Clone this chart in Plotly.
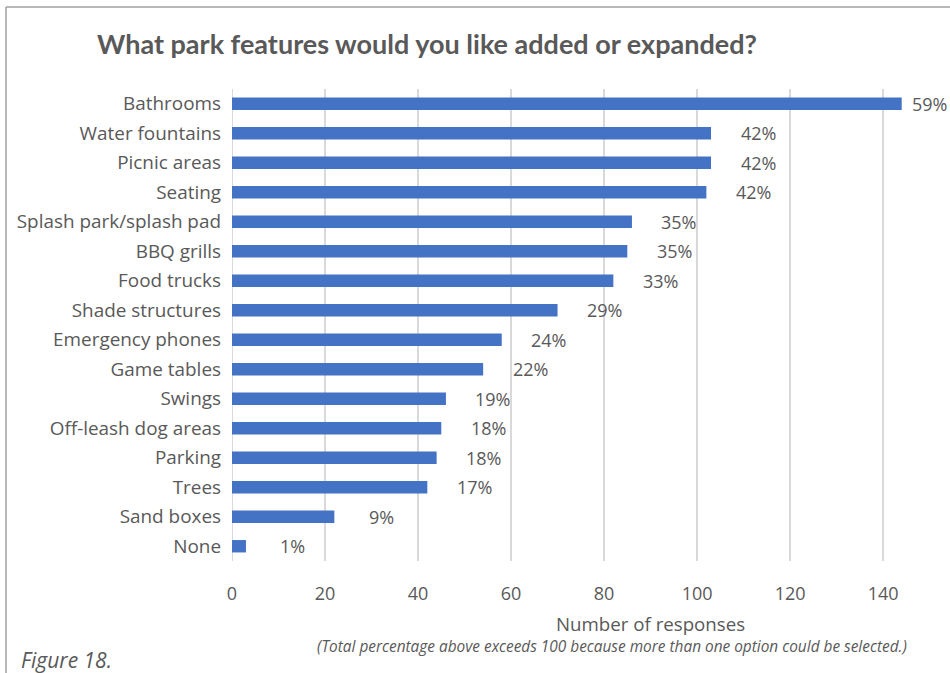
import plotly.graph_objects as go

categories = ["Bathrooms", "Water fountains", "Picnic areas", "Seating",
              "Splash park/splash pad", "BBQ grills", "Food trucks",
              "Shade structures", "Emergency phones", "Game tables", "Swings",
              "Off-leash dog areas", "Parking", "Trees", "Sand boxes", "None"]
responses = [144, 103, 103, 102, 86, 85, 82, 70, 58, 54, 46, 45, 44, 42, 22, 3]
pct_labels = ["59%", "42%", "42%", "42%", "35%", "35%", "33%", "29%", "24%",
              "22%", "19%", "18%", "18%", "17%", "9%", "1%"]
tick_values = [0, 20, 40, 60, 80, 100, 120, 140]

W, H = 950, 673
L, R, T, B = 232, 39, 89, 112
XMAX = 146
TXT = "#595959"
FONT = "Open Sans"

fig = go.Figure()
fig.add_trace(go.Bar(
    y=categories, x=responses, orientation="h",
    marker=dict(color="#4472C4", line=dict(width=0)),
    width=0.42, cliponaxis=False, hoverinfo="skip",
))

annotations = []
for c, v, p in zip(categories, responses, pct_labels):
    shift = 47 if v <= tick_values[-1] else 28
    annotations.append(dict(x=v, y=c, xref="x", yref="y", text=p,
                            showarrow=False, xanchor="center", xshift=shift,
                            font=dict(family=FONT, size=18, color=TXT)))

pw = W - L - R
ph = H - T - B
def px(x):
    return (x - L) / pw
def py(y):
    return (H - B - y) / ph

annotations += [
    dict(x=px(95), y=py(44), xref="paper", yref="paper", xanchor="left",
         yanchor="middle", showarrow=False,
         text="<b>What park features would you like added or expanded?</b>",
         font=dict(family="Lato", size=27, color=TXT)),
    dict(x=px(650), y=py(623), xref="paper", yref="paper", xanchor="center",
         yanchor="middle", showarrow=False, text="Number of responses",
         font=dict(family=FONT, size=18.7, color=TXT)),
    dict(x=px(612), y=py(646), xref="paper", yref="paper", xanchor="center",
         yanchor="middle", showarrow=False,
         text="<i>(Total percentage above exceeds 100 because more than one option could be selected.)</i>",
         font=dict(family=FONT, size=15.4, color=TXT)),
    dict(x=px(19), y=py(660), xref="paper", yref="paper", xanchor="left",
         yanchor="middle", showarrow=False, text="<i>Figure 18.</i>",
         font=dict(family=FONT, size=21, color=TXT)),
]

shapes = [
    dict(type="line", xref="paper", yref="paper", x0=px(6), x1=px(950),
         y0=py(7), y1=py(7), line=dict(color="#A0A0A0", width=1.5)),
    dict(type="line", xref="paper", yref="paper", x0=px(6), x1=px(6),
         y0=py(7), y1=py(673), line=dict(color="#A0A0A0", width=1.5)),
]

fig.update_layout(
    width=W, height=H,
    margin=dict(l=L, r=R, t=T, b=B, pad=0),
    paper_bgcolor="white", plot_bgcolor="white",
    showlegend=False, bargap=0.58,
    annotations=annotations, shapes=shapes,
    xaxis=dict(range=[0, XMAX], tickvals=tick_values, showgrid=True,
               gridcolor="#D9D9D9", gridwidth=1.5, zeroline=False,
               showline=False, ticks="", ticklabelstandoff=20,
               tickfont=dict(family=FONT, size=18, color=TXT)),
    yaxis=dict(categoryorder="array", categoryarray=categories,
               autorange="reversed", showgrid=False, zeroline=False,
               showline=False, ticks="", ticklabelstandoff=10,
               tickfont=dict(family=FONT, size=18.9, color=TXT)),
)
fig.add_shape(type="line", xref="x", yref="paper", x0=0, x1=0, y0=0, y1=1,
              line=dict(color="#D9D9D9", width=2), layer="below")

fig.write_html("out.html")
